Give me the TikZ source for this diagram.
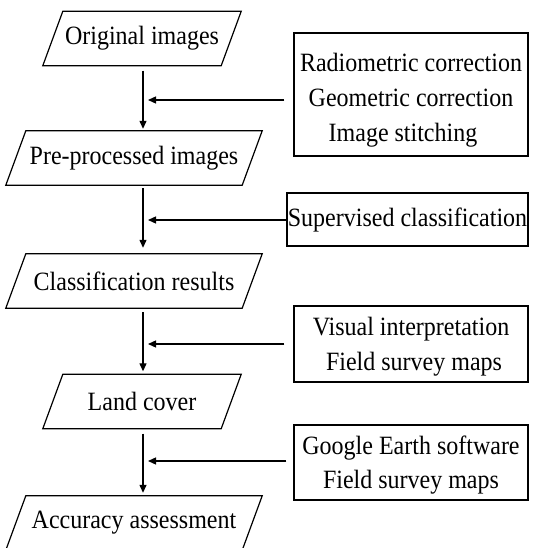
\documentclass[tikz,border=0pt]{standalone}
\usepackage{fontspec}
\usepackage{graphicx}
\setmainfont{Liberation Serif}
\usetikzlibrary{arrows.meta}
% text set slightly tall; #1 lowers the lines inside their box
\newcommand\tall[1]{\scalebox{1}[1.1]{#1}}
\newcommand\boxlines[2]{\raisebox{-#1}[\height][\depth]{\tall{\begin{tabular}{@{}c@{}}#2\end{tabular}}}}
\begin{document}
\begin{tikzpicture}[x=1pt,y=-1pt,
  every node/.style={font=\fontsize{24}{31.8}\selectfont, inner sep=0pt},
  datanode/.style={minimum height=54pt},
  narrowdata/.style={datanode, minimum width=178pt},
  widedata/.style={datanode, minimum width=236pt},
  stepbox/.style={draw, line width=1.2pt, minimum width=234pt},
  arr/.style={line width=1.3pt, -{Triangle[length=8pt,width=7pt]}}
]
\path[use as bounding box, clip] (0,0) rectangle (533,548);

% data items (parallelograms drawn below)
\node[narrowdata] (orig) at (142,38.5)  {\tall{Original images}};
\node[widedata]   (pre)  at (134,158)   {\tall{Pre-processed images}};
\node[widedata]   (cls)  at (134,281)   {\tall{Classification results}};
\node[narrowdata] (land) at (142,401.5) {\tall{Land cover}};
\node[widedata]   (acc)  at (134,523)   {\tall{Accuracy assessment}};

\foreach \n in {orig,pre,cls,land,acc}{
  \draw[line width=1.2pt]
    ([xshift=10pt]\n.north west) -- ([xshift=10pt]\n.north east) --
    ([xshift=-10pt]\n.south east) -- ([xshift=-10pt]\n.south west) -- cycle;
}

% processing steps
\node[stepbox, minimum height=123pt] (b1) at (411,94.5)
  {\boxlines{5pt}{Radiometric correction\\Geometric correction\\Image stitching\hspace*{16pt}}};
\node[stepbox, minimum width=241pt, minimum height=53pt] (b2) at (407.5,219.5)
  {\boxlines{0pt}{Supervised classification}};
\node[stepbox, minimum height=76pt] (b3) at (411,344)
  {\boxlines{2pt}{Visual interpretation\\\hspace*{6pt}Field survey maps}};
\node[stepbox, minimum height=75pt] (b4) at (411,462.5)
  {\boxlines{2pt}{Google Earth software\\Field survey maps}};

% main flow line and junctions
\coordinate (spine) at (143,0);
\coordinate (h1) at (143,100);
\coordinate (h2) at (143,220);
\coordinate (h3) at (143,344);
\coordinate (h4) at (143,461);

\draw[arr, shorten <=5pt, shorten >=2pt] (orig.south -| spine) -- (pre.north -| spine);
\draw[arr, shorten <=3pt, shorten >=6pt] (pre.south -| spine) -- (cls.north -| spine);
\draw[arr, shorten <=4pt, shorten >=3pt] (cls.south -| spine) -- (land.north -| spine);
\draw[arr, shorten <=5pt, shorten >=3pt] (land.south -| spine) -- (acc.north -| spine);

\draw[arr, shorten <=9pt, shorten >=5pt] (b1.west |- h1) -- (h1);
\draw[arr, shorten >=5pt] (b2.west |- h2) -- (h2);
\draw[arr, shorten <=9pt, shorten >=5pt] (b3.west |- h3) -- (h3);
\draw[arr, shorten <=7pt, shorten >=5pt] (b4.west |- h4) -- (h4);
\end{tikzpicture}
\end{document}
